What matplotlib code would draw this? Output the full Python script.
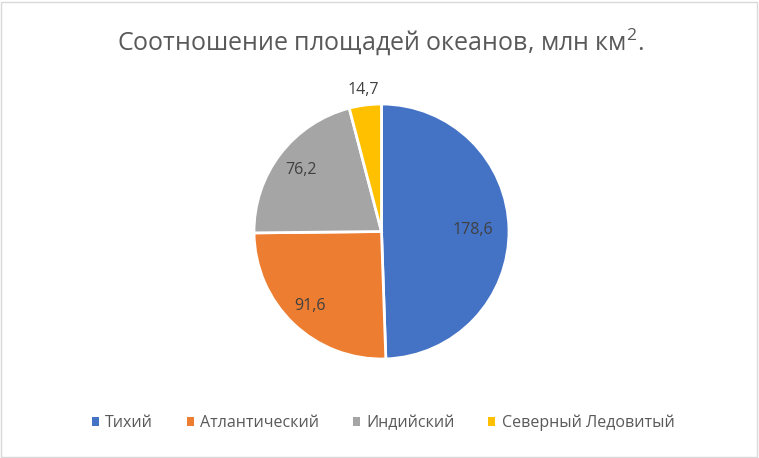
import matplotlib
matplotlib.use('Agg')
import matplotlib.pyplot as plt
from matplotlib.patches import Patch, Rectangle
import numpy as np

# Данные
oceans = ['Тихий', 'Атлантический', 'Индийский', 'Северный Ледовитый']
areas = [178.6, 91.6, 76.2, 14.7]
labels = ['178,6', '91,6', '76,2', '14,7']
colors = ['#4472C4', '#ED7D31', '#A5A5A5', '#FFC000']

plt.rcParams['font.family'] = ['Open Sans', 'DejaVu Sans']
plt.rcParams['mathtext.fontset'] = 'custom'
plt.rcParams['mathtext.rm'] = 'Open Sans'
plt.rcParams['mathtext.it'] = 'Open Sans'

W, H = 759, 458
fig = plt.figure(figsize=(W / 100, H / 100), dpi=100)

# рамка вокруг диаграммы
fig.patches.append(Rectangle((1 / W, 1 / H), 1 - 3 / W, 1 - 3 / H, transform=fig.transFigure,
                             fill=False, edgecolor='#D9D9D9', linewidth=1))

cx, cy, r = 381.5, 231.5, 127.5
ax = fig.add_axes([(cx - r) / W, 1 - (cy + r) / H, 2 * r / W, 2 * r / H])
wedges, _ = ax.pie(areas, colors=colors, startangle=90, counterclock=False,
                   wedgeprops=dict(edgecolor='white', linewidth=2))
ax.set_xlim(-1, 1)
ax.set_ylim(-1, 1)
ax.set_aspect('auto')
ax.axis('off')

# подписи данных
dist = [0.72, 0.81, 0.79, 1.12]
for w, lab, d in zip(wedges, labels, dist):
    ang = np.deg2rad((w.theta1 + w.theta2) / 2)
    ax.text(d * np.cos(ang), d * np.sin(ang), lab, ha='center', va='center',
            fontsize=11.5, color='#404040', clip_on=False)

fig.text(380 / W, 1 - 42 / H, 'Соотношение площадей океанов, млн км$^2$.',
         ha='center', va='center', fontsize=18, color='#595959')

handles = [Patch(facecolor=c, edgecolor='none', label=o) for c, o in zip(colors, oceans)]
fig.legend(handles=handles, loc='center', bbox_to_anchor=(383 / W, 1 - 423 / H), ncol=4,
           frameon=False, handlelength=0.45, handleheight=0.45, handletextpad=0.4,
           columnspacing=2.1, prop={'size': 11.5}, labelcolor='#595959')

fig.savefig('out.png', dpi=100)
